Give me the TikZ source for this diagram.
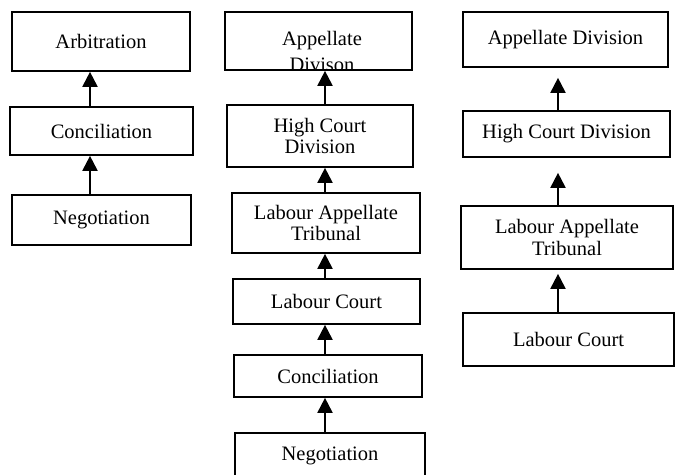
\documentclass[tikz,border=0pt]{standalone}
\usepackage{fontspec}
\setmainfont{Liberation Serif}
\usetikzlibrary{arrows.meta}
\begin{document}
\begin{tikzpicture}[x=1pt,y=-1pt,
  lbl/.style={font=\fontsize{20.5}{21.5}\selectfont},
  box/.style={draw=black,line width=1.7pt,rectangle,inner sep=0pt,
    align=center,lbl},
  up/.style={line width=2pt,-{Triangle[width=15pt,length=15pt]}},
]
\useasboundingbox[fill=white] (0,0) rectangle (676,474);

% column positions of the connectors
\coordinate (ca) at (90,0);
\coordinate (cb) at (325,0);
\coordinate (cc) at (558,0);

% left column
\node[box,minimum width=178pt,minimum height=59pt] (arb) at (101,41.5) {Arbitration};
\node[box,minimum width=183pt,minimum height=48pt] (con1) at (101.5,131) {Conciliation};
\node[box,minimum width=179pt,minimum height=50pt] (neg1) at (101.5,220) {Negotiation};

% middle column (the second line of the top box runs into its lower edge)
\node[box,minimum width=187pt,minimum height=58pt] (app2) at (318.5,41) {};
\begin{scope}
  \clip (app2.south west) rectangle (app2.north east);
  \node[lbl,anchor=base] (app2a) at (322,45.5) {Appellate};
  \node[lbl,anchor=base] (app2b) at (322,71.5) {Divison};
\end{scope}
\node[box,minimum width=187pt,minimum height=58pt] at (app2) {};
\node[box,minimum width=186pt,minimum height=62pt] (hcd2) at (320,136) {High Court\\Division};
\node[box,minimum width=188pt,minimum height=60pt] (lat2) at (326,223) {Labour Appellate\\Tribunal};
\node[box,minimum width=187pt,minimum height=45pt] (lc2) at (326.5,301.5) {Labour Court};
\node[box,minimum width=188pt,minimum height=42pt] (con2) at (328,376) {Conciliation};
\node[box,minimum width=190pt,minimum height=46pt] (neg2) at (330,456) {Negotiation};

% right column
\node[box,minimum width=205pt,minimum height=55pt] (app3) at (565.5,39.5) {Appellate Division};
\node[box,minimum width=207pt,minimum height=46pt] (hcd3) at (566.5,134) {High Court Division};
\node[box,minimum width=212pt,minimum height=63pt] (lat3) at (567,237.5) {Labour Appellate\\Tribunal};
\node[box,minimum width=211pt,minimum height=53pt] (lc3) at (568.5,339.5) {Labour Court};

% connectors
\draw[up] (con1.north -| ca) -- (arb.south -| ca);
\draw[up] (neg1.north -| ca) -- (con1.south -| ca);

\draw[up] (hcd2.north -| cb) -- (app2.south -| cb);
\draw[up] (lat2.north -| cb) -- (hcd2.south -| cb);
\draw[up] (lc2.north -| cb) -- (lat2.south -| cb);
\draw[up] (con2.north -| cb) -- (lc2.south -| cb);
\draw[up] (neg2.north -| cb) -- (con2.south -| cb);

\draw[up,shorten >=10pt] (hcd3.north -| cc) -- (app3.south -| cc);
\draw[up,shorten >=15pt] (lat3.north -| cc) -- (hcd3.south -| cc);
\draw[up,shorten >=4pt] (lc3.north -| cc) -- (lat3.south -| cc);
\end{tikzpicture}
\end{document}
